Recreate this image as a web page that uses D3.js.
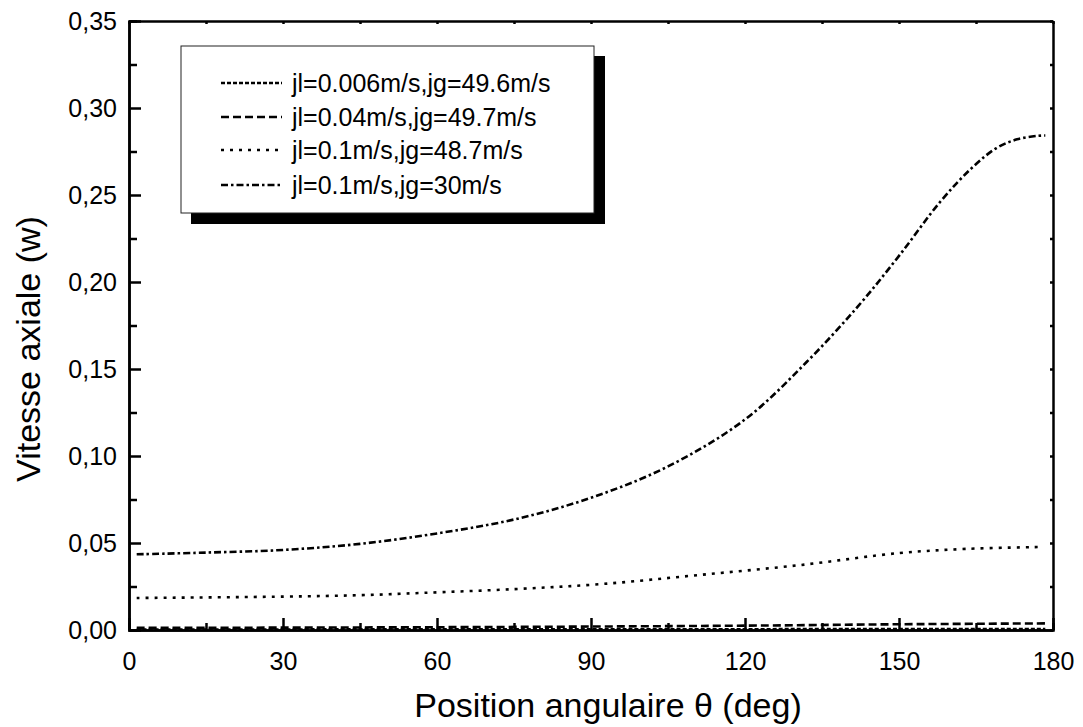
<!DOCTYPE html>
<html>
<head>
  <meta charset="utf-8">
  <title>Vitesse axiale</title>
  <script src="https://d3js.org/d3.v7.min.js"></script>
  <style>
    body { margin: 0; background: #fff; }
    svg { font-family: "Liberation Sans", Arial, sans-serif; }
    .axis path, .axis line { stroke: #000; stroke-width: 2.5; }
    .axis text { font-size: 25px; fill: #000; }
  </style>
</head>
<body>
  <svg width="1083" height="727"></svg>

  <script>
    // data: [theta (deg), w]
    const labels = [
      "jl=0.006m/s,jg=49.6m/s",
      "jl=0.04m/s,jg=49.7m/s",
      "jl=0.1m/s,jg=48.7m/s",
      "jl=0.1m/s,jg=30m/s"
    ];
    const s1 = [[1.5, 0.0003], [90, 0.0004], [178.5, 0.0006]];
    const s2 = [[1.5, 0.0012], [60, 0.0016], [120, 0.0025], [150, 0.0033], [178.5, 0.0038]];
    const s3 = [[1.5, 0.0184], [30, 0.0192], [45, 0.0200], [57, 0.0213], [75, 0.0235], [92, 0.0264],
                [111, 0.0316], [131, 0.0374], [150, 0.0442], [163, 0.0466], [177.5, 0.0477]];
    const s4 = [[1.5, 0.0435], [15, 0.0445], [30, 0.046], [45, 0.0495], [60, 0.0555], [75, 0.0635],
                [90, 0.076], [105, 0.094], [120, 0.121], [132, 0.154],
                [142, 0.186], [150, 0.215], [158, 0.246], [164, 0.265],
                [169, 0.277], [173, 0.282], [177, 0.284], [178.5, 0.2842]];
    const series = [s1, s2, s3, s4];
    const dashes = ["4,2", "8,4", "3,6", "7,3,2.5,3"];
    const xTicks = [0, 30, 60, 90, 120, 150, 180];
    const yTicks = [0, 0.05, 0.10, 0.15, 0.20, 0.25, 0.30, 0.35];

    const svg = d3.select("svg");
    const pLeft = 129, pRight = 1053, pTop = 21, pBottom = 630;

    const x = d3.scaleLinear().domain([0, 180]).range([pLeft, pRight]);
    const y = d3.scaleLinear().domain([0, 0.35]).range([pBottom, pTop]);
    const fmt = d => d3.format(".2f")(d).replace(".", ",");

    // minor ticks
    const xMinor = d3.range(15, 180, 30);
    const yMinor = d3.range(0.025, 0.35, 0.05);

    svg.append("g").attr("class", "axis").attr("transform", `translate(0,${pBottom})`)
      .call(d3.axisBottom(x).tickValues(xMinor).tickSize(-7).tickFormat(""));
    svg.append("g").attr("class", "axis").attr("transform", `translate(${pLeft},0)`)
      .call(d3.axisLeft(y).tickValues(yMinor).tickSize(-8).tickFormat(""));

    // top and right frame with small ticks
    svg.append("g").attr("class", "axis").attr("transform", `translate(0,${pTop})`)
      .call(d3.axisTop(x).tickValues(xTicks.concat(xMinor)).tickSize(-3).tickSizeOuter(0).tickFormat(""));
    svg.append("g").attr("class", "axis").attr("transform", `translate(${pRight},0)`)
      .call(d3.axisRight(y).tickValues(yTicks.concat(yMinor)).tickSize(-3).tickSizeOuter(0).tickFormat(""));

    const gx = svg.append("g").attr("class", "axis").attr("transform", `translate(0,${pBottom})`)
      .call(d3.axisBottom(x).tickValues(xTicks).tickSize(-12).tickSizeOuter(0).tickPadding(22));
    gx.selectAll("text").attr("dy", "0.71em");

    const gy = svg.append("g").attr("class", "axis").attr("transform", `translate(${pLeft},0)`)
      .call(d3.axisLeft(y).tickValues(yTicks).tickSize(-12).tickSizeOuter(0).tickPadding(12).tickFormat(fmt));

    // curves
    const line = d3.line().x(d => x(d[0])).y(d => y(d[1])).curve(d3.curveCatmullRom.alpha(0.5));
    svg.append("g").selectAll("path")
      .data(series)
      .join("path")
      .attr("d", line)
      .attr("fill", "none")
      .attr("stroke", "#000")
      .attr("stroke-width", 2.6)
      .attr("stroke-dasharray", (d, i) => dashes[i]);

    // axis titles
    svg.append("text")
      .attr("x", 608).attr("y", 717)
      .attr("text-anchor", "middle")
      .attr("font-size", 34)
      .text("Position angulaire \u03b8 (deg)");
    svg.append("text")
      .attr("transform", "translate(40,349) rotate(-90)")
      .attr("text-anchor", "middle")
      .attr("font-size", 34)
      .text("Vitesse axiale (w)");

    // legend
    const lg = svg.append("g");
    lg.append("rect").attr("x", 191).attr("y", 56).attr("width", 414).attr("height", 168).attr("fill", "#000");
    lg.append("rect").attr("x", 181).attr("y", 46).attr("width", 413).attr("height", 167)
      .attr("fill", "#fff").attr("stroke", "#222").attr("stroke-width", 1);
    const rows = [83, 117, 150, 185];
    labels.forEach((t, i) => {
      lg.append("line")
        .attr("x1", 221).attr("x2", 282).attr("y1", rows[i]).attr("y2", rows[i])
        .attr("stroke", "#000").attr("stroke-width", 2.4)
        .attr("stroke-dasharray", dashes[i]);
      lg.append("text")
        .attr("x", 292).attr("y", rows[i]).attr("dy", "0.36em")
        .attr("font-size", 25)
        .text(t);
    });
  </script>
</body>
</html>
